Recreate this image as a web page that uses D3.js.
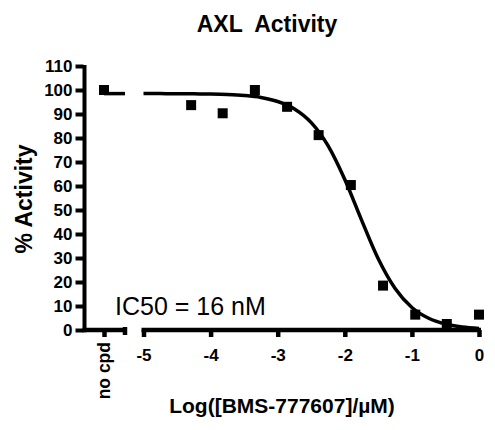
<!DOCTYPE html>
<html>
<head>
<meta charset="utf-8">
<script src="https://cdn.jsdelivr.net/npm/d3@7"></script>
<style>
  html, body { margin: 0; padding: 0; background: #fff; }
  svg text { font-family: "Liberation Sans", Arial, sans-serif; fill: #000; }
</style>
</head>
<body>
<svg id="chart" width="495" height="430"></svg>
<script>
// ---- data ----
const title = "AXL  Activity";
const yLabel = "% Activity";
const xLabel = "Log([BMS-777607]/\u00b5M)";
const annotation = "IC50 = 16 nM";
const controlCategory = ["no cpd"];
const controlActivity = [100];
const controlFit = [98.5];
const logConc = [-4.29, -3.82, -3.34, -2.86, -2.39, -1.91, -1.43, -0.95, -0.48, 0];
const activity = [93.7, 90.3, 100, 93.0, 81.2, 60.4, 18.5, 6.4, 2.5, 6.4];
const fitX = [-5, -4.75, -4.5, -4.25, -4, -3.75, -3.5, -3.25, -3, -2.75, -2.5, -2.25, -2, -1.75, -1.5, -1.25, -1, -0.75, -0.5, -0.25, 0];
const fitY = [98.5, 98.5, 98.45, 98.4, 98.3, 98.1, 97.7, 96.9, 95.2, 92.1, 86.4, 76.8, 62.7, 45.8, 29.6, 17.3, 9.4, 4.9, 2.5, 1.25, 0.62];
const yTicks = [0, 10, 20, 30, 40, 50, 60, 70, 80, 90, 100, 110];
const xTicks = [-5, -4, -3, -2, -1, 0];

// ---- layout ----
const svg = d3.select("#chart");
const axisX = 84.5, axisY = 330;
const y = d3.scaleLinear().domain([0, 110]).range([330, 66]);
const x = d3.scaleLinear().domain([-5, 0]).range([143.5, 479]);
const xc = d3.scalePoint().domain(controlCategory).range([84, 124]).padding(0.5);
const seg1End = 127, seg2Start = 141.5;
const lw = 4.5;

// axes lines
svg.append("line").attr("x1", axisX).attr("x2", axisX)
  .attr("y1", y(110) - 1).attr("y2", axisY + lw / 2)
  .attr("stroke", "#000").attr("stroke-width", 4);
svg.append("line").attr("x1", axisX - 2).attr("x2", seg1End)
  .attr("y1", axisY).attr("y2", axisY).attr("stroke", "#000").attr("stroke-width", lw);
svg.append("line").attr("x1", seg2Start).attr("x2", x(0) + 2)
  .attr("y1", axisY).attr("y2", axisY).attr("stroke", "#000").attr("stroke-width", lw);

// y ticks
const yAxis = d3.axisLeft(y).tickValues(yTicks).tickSize(8).tickPadding(3);
const gy = svg.append("g").attr("transform", `translate(${axisX - 1},0)`).call(yAxis);
gy.select(".domain").remove();
gy.selectAll(".tick line").attr("stroke", "#000").attr("stroke-width", 4);
gy.selectAll(".tick text").attr("font-size", 17).attr("font-weight", "bold")
  .attr("font-family", "Liberation Sans, Arial, sans-serif").attr("fill", "#000");

// x ticks (numeric segment)
const xAxis = d3.axisBottom(x).tickValues(xTicks).tickSize(7).tickPadding(12)
  .tickFormat(d3.format("d"));
const gx = svg.append("g").attr("transform", `translate(0,${axisY})`).call(xAxis);
gx.select(".domain").remove();
gx.selectAll(".tick line").attr("stroke", "#000").attr("stroke-width", 4.5);
gx.selectAll(".tick text").attr("font-size", 17).attr("font-weight", "bold")
  .attr("font-family", "Liberation Sans, Arial, sans-serif").attr("fill", "#000")
  .text(d => d === 0 ? "0" : String(d).replace("\u2212", "-"));

// control segment tick + end cap
const xcAxis = d3.axisBottom(xc).tickSize(7).tickFormat("");
const gxc = svg.append("g").attr("transform", `translate(0,${axisY})`).call(xcAxis);
gxc.select(".domain").remove();
gxc.selectAll(".tick line").attr("stroke", "#000").attr("stroke-width", 4.5);
svg.append("line").attr("x1", seg1End - 2).attr("x2", seg1End - 2)
  .attr("y1", axisY - 3).attr("y2", axisY + 5).attr("stroke", "#000").attr("stroke-width", 4.5);

// control label
svg.append("text").attr("transform", `translate(${xc("no cpd") + 5.5},342) rotate(-90)`)
  .attr("text-anchor", "end").attr("font-size", 17.5).attr("font-weight", "bold")
  .text(controlCategory[0]);

// fitted curve
const line = d3.line().x(d => x(d[0])).y(d => y(d[1])).curve(d3.curveMonotoneX);
svg.append("path").datum(fitX.map((v, i) => [v, fitY[i]]))
  .attr("d", line).attr("fill", "none").attr("stroke", "#000").attr("stroke-width", 3.5);
svg.append("line").attr("x1", xc("no cpd")).attr("x2", seg1End - 2)
  .attr("y1", y(controlFit[0])).attr("y2", y(controlFit[0]))
  .attr("stroke", "#000").attr("stroke-width", 3.5);

// points
const sz = 10;
svg.append("g").selectAll("rect").data(logConc.map((v, i) => [v, activity[i]])).join("rect")
  .attr("x", d => x(d[0]) - sz / 2).attr("y", d => y(d[1]) - sz / 2)
  .attr("width", sz).attr("height", sz).attr("fill", "#000");
svg.append("g").selectAll("rect").data(controlCategory.map((c, i) => [c, controlActivity[i]])).join("rect")
  .attr("x", d => xc(d[0]) - sz / 2).attr("y", d => y(d[1]) - sz / 2)
  .attr("width", sz).attr("height", sz).attr("fill", "#000");

// texts
svg.append("text").attr("x", 267).attr("y", 32).attr("text-anchor", "middle")
  .attr("font-size", 23).attr("font-weight", "bold").attr("xml:space", "preserve")
  .style("white-space", "pre").text(title);
svg.append("text").attr("transform", "translate(32,199) rotate(-90)")
  .attr("text-anchor", "middle").attr("font-size", 23).attr("font-weight", "bold").text(yLabel);
svg.append("text").attr("x", 282).attr("y", 413).attr("text-anchor", "middle")
  .attr("font-size", 21).attr("font-weight", "bold").text(xLabel);
svg.append("text").attr("x", 115).attr("y", 315)
  .attr("font-size", 25).text(annotation);
</script>
</body>
</html>
